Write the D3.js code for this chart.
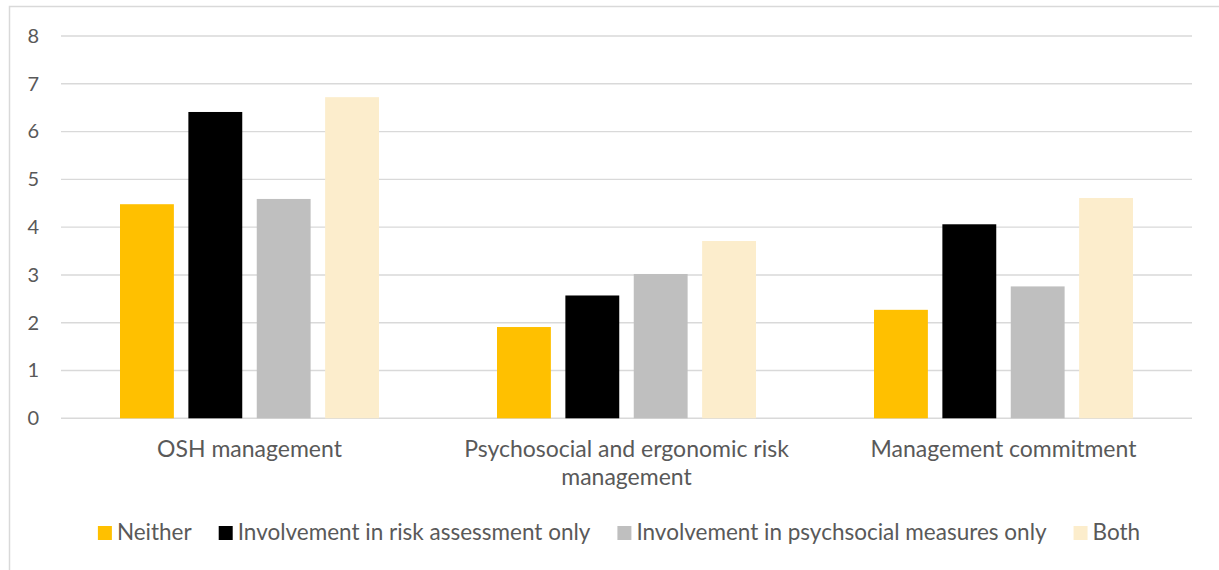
<!DOCTYPE html>
<html>
<head>
<meta charset="utf-8">
<script src="https://cdn.jsdelivr.net/npm/d3@7"></script>
<style>
  body { margin: 0; background: #fff; }
  text { font-family: Lato, "Open Sans", sans-serif; fill: #595959; }
</style>
</head>
<body>
<div id="chart"></div>
<script>
// chart size
var width = 1219;
var height = 570;

// data
var categories = ["OSH management", "Psychosocial and ergonomic risk management", "Management commitment"];
var categoryLines = [["OSH management"], ["Psychosocial and ergonomic risk", "management"], ["Management commitment"]];
var seriesNames = ["Neither", "Involvement in risk assessment only", "Involvement in psychsocial measures only", "Both"];
var seriesColors = ["#FFC000", "#000000", "#BFBFBF", "#FCEDCC"];
var neither = [4.48, 1.91, 2.27];
var riskOnly = [6.41, 2.57, 4.06];
var psychOnly = [4.59, 3.02, 2.76];
var both = [6.72, 3.71, 4.61];
var yTicks = [0, 1, 2, 3, 4, 5, 6, 7, 8];

var series = [neither, riskOnly, psychOnly, both];

var margin = {left: 61, right: 27, top: 36, bottom: 152};

var svg = d3.select("#chart")
  .append("svg")
  .attr("width", width)
  .attr("height", height);

// outer frame
svg.append("rect")
  .attr("x", 9.5)
  .attr("y", 6.5)
  .attr("width", width + 10)
  .attr("height", height + 10)
  .attr("fill", "none")
  .attr("stroke", "#d9d9d9")
  .attr("stroke-width", 1.5);

var y = d3.scaleLinear()
  .domain([0, 8])
  .range([height - margin.bottom + 0.3, margin.top]);

var x0 = d3.scaleBand()
  .domain(categories)
  .range([margin.left, width - margin.right])
  .padding(0);

var x1 = d3.scaleBand()
  .domain(d3.range(seriesNames.length))
  .range([59, x0.bandwidth() - 59])
  .paddingInner(0.212)
  .paddingOuter(0);

// gridlines
svg.append("g")
  .selectAll("line")
  .data(yTicks)
  .enter()
  .append("line")
  .attr("x1", margin.left)
  .attr("x2", width - margin.right)
  .attr("y1", function(d) { return y(d); })
  .attr("y2", function(d) { return y(d); })
  .attr("stroke", "#d9d9d9")
  .attr("stroke-width", 1.4);

// y axis labels
var yAxis = svg.append("g")
  .attr("transform", "translate(" + (margin.left - 22) + ",0)")
  .call(d3.axisLeft(y).tickValues(yTicks).tickSize(0).tickPadding(0).tickFormat(d3.format("d")));
yAxis.select(".domain").remove();
yAxis.selectAll("text")
  .style("font-family", "Lato, sans-serif")
  .style("font-size", "20px")
  .attr("fill", "#595959");

// bars
var groups = svg.append("g")
  .selectAll("g")
  .data(categories)
  .enter()
  .append("g")
  .attr("transform", function(d) { return "translate(" + x0(d) + ",0)"; });

groups.selectAll("rect")
  .data(function(d, i) {
    return series.map(function(s, j) { return {key: j, value: s[i]}; });
  })
  .enter()
  .append("rect")
  .attr("x", function(d) { return x1(d.key); })
  .attr("width", x1.bandwidth())
  .attr("y", function(d) { return y(d.value); })
  .attr("height", function(d) { return y(0) - y(d.value); })
  .attr("fill", function(d) { return seriesColors[d.key]; });

// category labels
var catLabels = svg.append("g")
  .selectAll("text")
  .data(categoryLines)
  .enter()
  .append("text")
  .attr("x", function(d, i) { return x0(categories[i]) + x0.bandwidth() / 2; })
  .attr("y", 457)
  .attr("text-anchor", "middle")
  .style("font-size", "23px");
catLabels.selectAll("tspan")
  .data(function(d) { return d; })
  .enter()
  .append("tspan")
  .attr("x", function() { return d3.select(this.parentNode).attr("x"); })
  .attr("dy", function(d, i) { return i === 0 ? 0 : 28; })
  .text(function(d) { return d; });

// legend
var legend = svg.append("g").attr("class", "legend");
var items = legend.selectAll("g")
  .data(seriesNames)
  .enter()
  .append("g");
items.append("rect")
  .attr("width", 14)
  .attr("height", 14)
  .attr("y", 526)
  .attr("fill", function(d, i) { return seriesColors[i]; });
items.append("text")
  .attr("x", 19)
  .attr("y", 540)
  .style("font-size", "22.5px")
  .text(function(d) { return d; });

// lay legend out by measured text widths, centred
var offsets = [];
var pos = 0;
items.each(function(d, i) {
  offsets.push(pos);
  var w = d3.select(this).select("text").node().getComputedTextLength();
  pos += 19 + w + 27;
});
var total = pos - 27;
var start = 619 - total / 2;
items.attr("transform", function(d, i) { return "translate(" + (start + offsets[i]) + ",0)"; });
</script>
</body>
</html>
